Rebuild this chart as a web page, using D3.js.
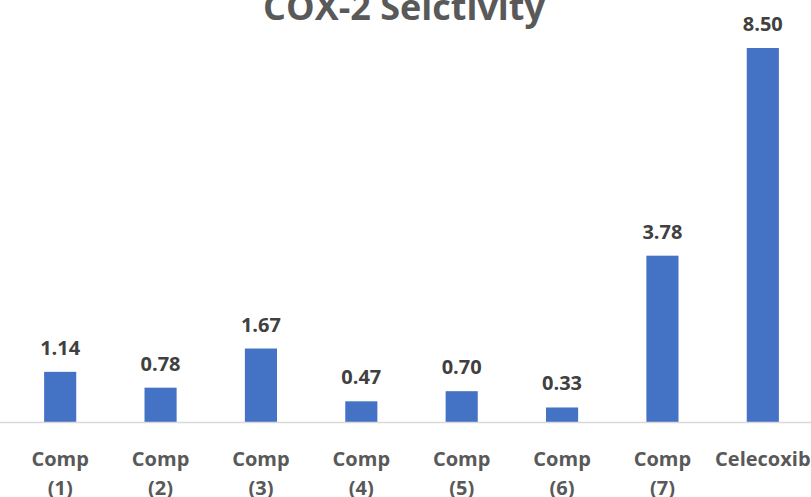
<!DOCTYPE html>
<html>
<head>
<meta charset="utf-8">
<script src="https://cdn.jsdelivr.net/npm/d3@7"></script>
<style>
  html, body { margin: 0; padding: 0; background: #fff; }
  svg { display: block; }
  text { font-family: "Open Sans", Lato, sans-serif; font-weight: bold; }
</style>
</head>
<body>
<svg id="chart" width="811" height="497"></svg>
<script>
// COX-2 selectivity index per compound
const categories = ["Comp (1)", "Comp (2)", "Comp (3)", "Comp (4)", "Comp (5)", "Comp (6)", "Comp (7)", "Celecoxib"];
const values = [1.14, 0.78, 1.67, 0.47, 0.70, 0.33, 3.78, 8.50];
const chartTitle = "COX-2 Selctivity";

const W = 811, H = 497;
const svg = d3.select("#chart");

const plot = { left: 10, right: 813, top: -18, bottom: 422 };

const x = d3.scaleBand()
  .domain(categories)
  .range([plot.left, plot.right])
  .paddingInner(0.68)
  .paddingOuter(0.34);

const y = d3.scaleLinear()
  .domain([0, 10])
  .range([plot.bottom, plot.top]);

// title (partly above the top edge of the canvas)
svg.append("text")
  .attr("x", 404)
  .attr("y", 20)
  .attr("text-anchor", "middle")
  .attr("fill", "#595959")
  .attr("font-size", 36)
  .text(chartTitle);

// bars
svg.append("g").selectAll("rect")
  .data(values)
  .join("rect")
  .attr("x", (d, i) => x(categories[i]))
  .attr("width", x.bandwidth())
  .attr("y", d => y(d))
  .attr("height", d => y(0) - y(d))
  .attr("fill", "#4472C4");

// value labels
svg.append("g").selectAll("text")
  .data(values)
  .join("text")
  .attr("x", (d, i) => x(categories[i]) + x.bandwidth() / 2)
  .attr("y", d => y(d) - 17)
  .attr("text-anchor", "middle")
  .attr("fill", "#404040")
  .attr("font-size", 20)
  .text(d => d.toFixed(2));

// category axis
const xAxis = d3.axisBottom(x).tickSize(0).tickPadding(0);
const gx = svg.append("g")
  .attr("transform", `translate(0,${plot.bottom})`)
  .call(xAxis);
gx.select(".domain").attr("d", `M0,0.5H${W}`).attr("stroke", "#D9D9D9").attr("stroke-width", 1.3);
gx.selectAll(".tick text").remove();
gx.selectAll(".tick").each(function(d) {
  const words = d.split(" ");
  const t = d3.select(this).append("text")
    .attr("text-anchor", "middle")
    .attr("fill", "#595959")
    .attr("font-size", 20)
    .attr("font-family", "'Open Sans', Lato, sans-serif")
    .attr("font-weight", "bold");
  words.forEach((w, k) => {
    t.append("tspan").attr("x", 0).attr("y", 44 + k * 29).text(w);
  });
});
</script>
</body>
</html>
